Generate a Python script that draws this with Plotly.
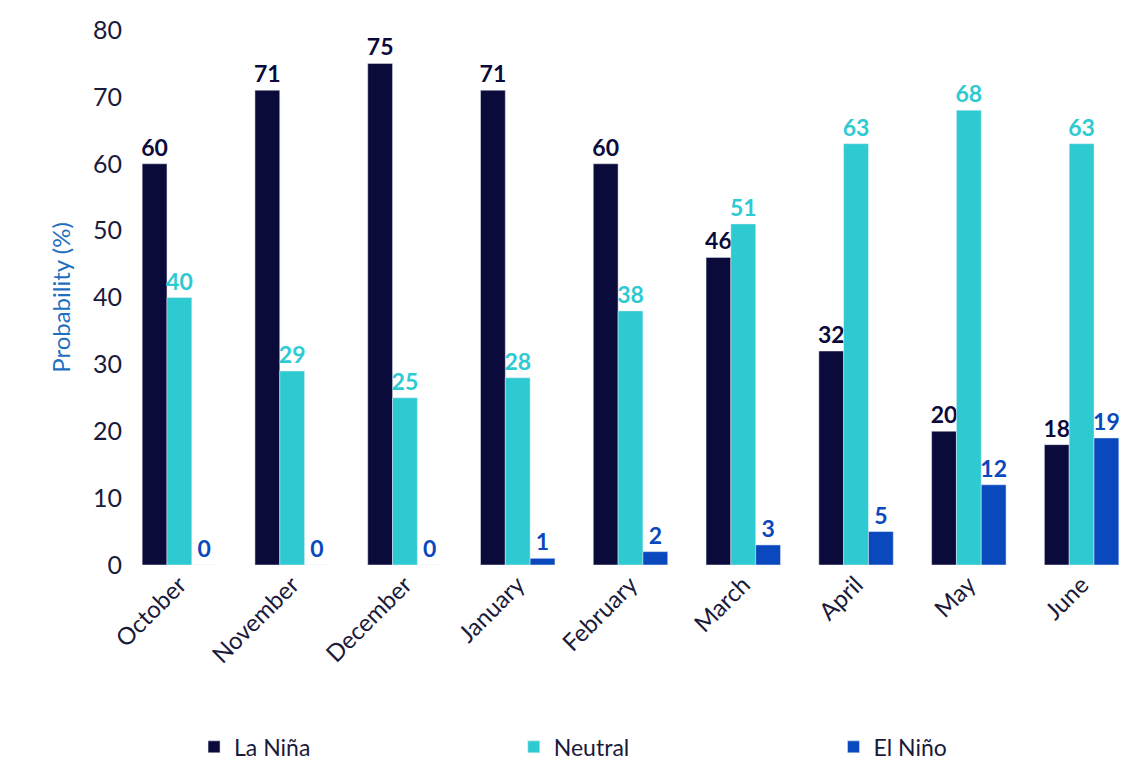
import plotly.graph_objects as go

months = ["October", "November", "December", "January", "February", "March", "April", "May", "June"]
la_nina = [60, 71, 75, 71, 60, 46, 32, 20, 18]
neutral = [40, 29, 25, 28, 38, 51, 63, 68, 63]
el_nino = [0, 0, 0, 1, 2, 3, 5, 12, 19]

series = [
    ("La Niña", la_nina, "#0b0b3b", "legend"),
    ("Neutral", neutral, "#2ecad2", "legend2"),
    ("El Niño", el_nino, "#0a48bd", "legend3"),
]

fig = go.Figure()
for name, vals, col, leg in series:
    fig.add_trace(go.Bar(
        x=months, y=vals, name=name, marker_color=col, legend=leg,
        text=vals, textposition="outside", cliponaxis=False,
        textfont=dict(color=col, size=23, family="Lato", weight="bold"),
    ))

leg_style = dict(orientation="h", y=-0.34, yanchor="middle", xanchor="left",
                 font=dict(size=23), itemwidth=30, bgcolor="rgba(0,0,0,0)")
fig.update_layout(
    width=1135, height=765,
    barmode="group", bargap=0.34, bargroupgap=0,
    plot_bgcolor="white", paper_bgcolor="white",
    font=dict(family="Lato", size=24, color="#1a1a3a"),
    margin=dict(l=115, r=5, t=22, b=203),
    uniformtext=dict(minsize=23, mode="show"),
    legend=dict(leg_style, x=0.07),
    legend2=dict(leg_style, x=0.385),
    legend3=dict(leg_style, x=0.70),
    showlegend=True,
)
fig.update_yaxes(range=[0, 80], dtick=10, showgrid=False, zeroline=False,
                 title=dict(text="Probability (%)", font=dict(color="#1f6fc0", size=24)),
                 tickfont=dict(size=25), ticks="", ticklen=0)
fig.update_xaxes(tickangle=-45, tickfont=dict(size=24), showline=False)

fig.write_html("out.html")
